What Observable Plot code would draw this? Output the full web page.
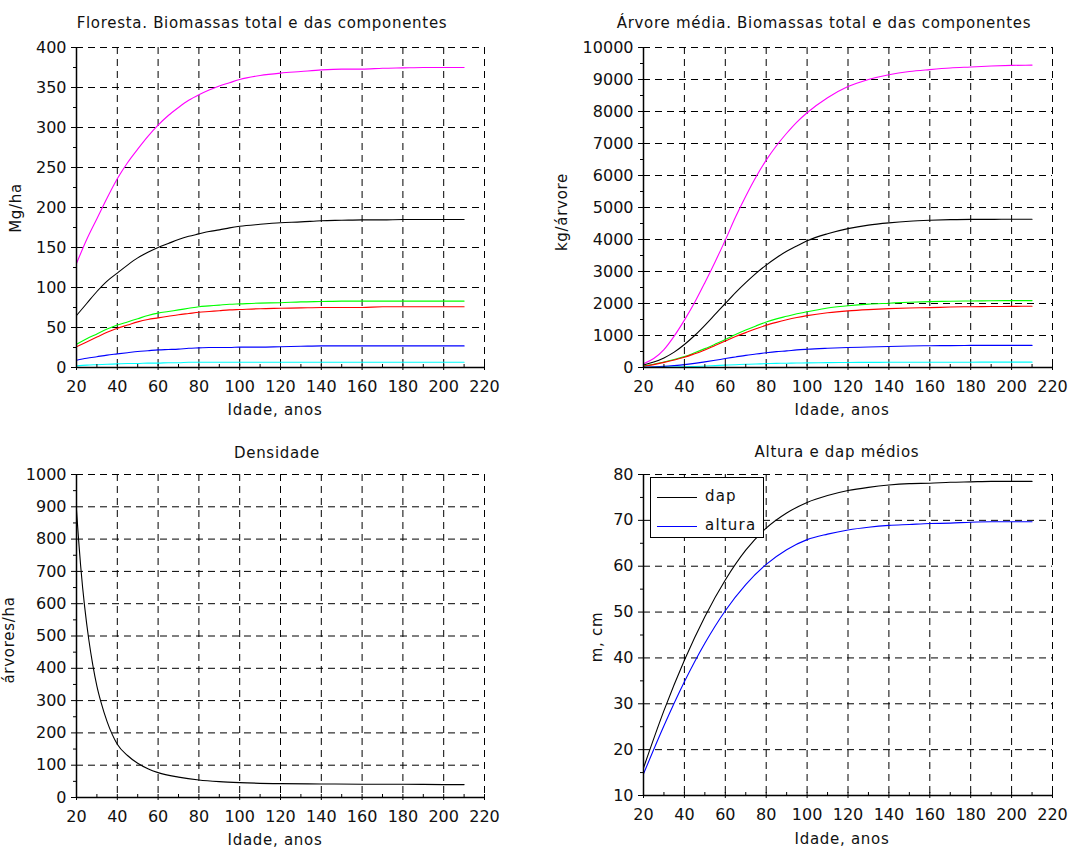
<!DOCTYPE html>
<html>
<head>
<meta charset="utf-8">
<script src="https://cdn.jsdelivr.net/npm/d3@7"></script>
<script src="https://cdn.jsdelivr.net/npm/@observablehq/plot@0.6"></script>
<style>
  html, body { margin: 0; padding: 0; background: white; }
  #page { position: relative; width: 1088px; height: 850px; overflow: hidden; background: white; font-family: "DejaVu Sans", sans-serif; color: #111; }
  .pane { position: absolute; }
  .txt { position: absolute; white-space: nowrap; font-size: 15px; line-height: 1; letter-spacing: 0.7px; transform: translate(-50%, -50%); }
  .rot { transform: translate(-50%, -50%) rotate(-90deg); }
  #legend { position: absolute; border: 1.5px solid #000; background: white; box-sizing: border-box; }
  .lg-row { position: absolute; left: 0; width: 100%; height: 20px; }
  .lg-row svg { position: absolute; left: 6px; top: 9px; }
  .lg-row span { position: absolute; left: 54px; top: 2px; font-size: 15px; letter-spacing: 1.2px; line-height: 1; }
</style>
</head>
<body>
<div id="page"></div>
<script>
// ---------------- DATA ----------------
const xTicks = [20, 40, 60, 80, 100, 120, 140, 160, 180, 200, 220];
const xMinor = [30, 50, 70, 90, 110, 130, 150, 170, 190, 210];

const ages = [20, 25, 30, 35, 40, 45, 50, 55, 60, 65, 70, 75, 80, 85, 90, 95, 100, 110, 120, 130, 140, 150, 160, 170, 180, 190, 200, 210];

// Floresta (Mg/ha)
const florTotal = [130, 160, 186, 212, 236, 256, 273, 289, 303, 315, 325, 334, 341, 347, 352, 356, 360, 365, 368, 370, 372, 373, 373, 374, 374.5, 375, 375, 375];
const florStem  = [65, 80, 95, 108, 118, 128, 137, 144, 150, 155, 160, 164, 167, 170, 172, 174.5, 176.5, 179, 181, 182, 183.5, 184, 184.5, 184.5, 185, 185, 185, 185];
const florGreen = [29, 36, 42, 48, 53, 57, 61, 65, 68, 70, 72, 74, 76, 77, 78, 79, 79.5, 80.5, 81, 82, 82.5, 83, 83, 83, 83, 83, 83, 83];
const florRed   = [26, 32, 38, 44, 49, 53, 57, 60, 62, 64, 66, 67.5, 69, 70, 71, 72, 72.5, 73.5, 74, 74.5, 75, 75, 75, 76, 76, 76, 76, 76];
const florBlue  = [9, 11.5, 13.5, 15.5, 17, 18.5, 20, 21, 22, 22.5, 23, 24, 24.5, 25, 25, 25, 25.5, 25.5, 26, 26.5, 27, 27, 27, 27, 27, 27, 27, 27];
const florCyan  = [2, 3, 3.5, 4, 4.5, 5, 5, 5.5, 5.5, 6, 6, 6.5, 6.5, 6.5, 6.5, 6.5, 6.5, 6.5, 6.5, 6.5, 6.5, 6.5, 6.5, 6.5, 6.5, 6.5, 6.5, 6.5];

// Árvore média (kg/árvore)
const arvTotal = [120, 280, 560, 980, 1480, 2030, 2650, 3300, 3980, 4700, 5350, 5950, 6480, 6930, 7320, 7670, 7960, 8430, 8780, 9000, 9150, 9250, 9310, 9360, 9390, 9420, 9440, 9450];
const arvStem  = [80, 170, 300, 480, 720, 1000, 1320, 1660, 2000, 2340, 2650, 2940, 3200, 3430, 3630, 3800, 3960, 4180, 4340, 4450, 4520, 4570, 4600, 4620, 4630, 4630, 4635, 4635];
const arvGreen = [50, 100, 170, 250, 340, 460, 590, 730, 875, 1030, 1170, 1300, 1420, 1520, 1600, 1680, 1740, 1860, 1930, 1980, 2010, 2040, 2060, 2070, 2080, 2085, 2090, 2090];
const arvRed   = [40, 90, 160, 235, 320, 430, 550, 690, 830, 970, 1090, 1210, 1320, 1410, 1490, 1560, 1620, 1710, 1770, 1810, 1840, 1860, 1870, 1890, 1900, 1905, 1910, 1915];
const arvBlue  = [10, 20, 35, 60, 90, 130, 175, 225, 280, 330, 380, 420, 460, 495, 520, 550, 570, 600, 625, 640, 655, 670, 680, 685, 690, 690, 690, 690];
const arvCyan  = [2, 5, 9, 15, 22, 32, 45, 60, 75, 88, 100, 110, 120, 128, 135, 140, 145, 152, 157, 160, 162, 164, 165, 166, 166, 167, 167, 167];

// Densidade
const densAges = [20, 21, 22, 23, 24, 26, 28, 30, 32, 35, 40, 45, 50, 55, 60, 70, 80, 90, 100, 120, 140, 160, 180, 200, 210];
const densVals = [890, 800, 720, 650, 590, 490, 410, 345, 295, 235, 165, 130, 106, 89, 77, 63, 54, 49, 46, 43, 42, 41, 41, 40, 40];

// Altura e dap médios
const hdAges  = [20, 30, 40, 50, 60, 70, 80, 90, 100, 110, 120, 130, 140, 150, 160, 170, 180, 190, 200, 210];
const dapVals = [16, 28.5, 39.5, 49, 57, 63.5, 68.3, 71.6, 73.9, 75.4, 76.5, 77.2, 77.7, 78, 78.1, 78.3, 78.4, 78.5, 78.5, 78.5];
const altVals = [14.7, 25.2, 34.8, 43.2, 50.3, 56, 60.4, 63.6, 65.8, 67, 67.9, 68.5, 68.9, 69.1, 69.3, 69.4, 69.6, 69.7, 69.7, 69.7];

const colors = { total: "#ff00ff", stem: "#000000", green: "#00ff00", red: "#ff0000", blue: "#0000ff", cyan: "#00ffff" };

function rows(xs, ys, key) { return xs.map((x, i) => ({ x, y: ys[i], key })); }
function range(a, b, s) { const r = []; for (let v = a; v <= b + 1e-9; v += s) r.push(+v.toFixed(6)); return r; }

// ---------------- PANEL BUILDER ----------------
function panel({ left, top, width, height, margins, yDomain, yTicks, yMinor, series }) {
  const dash = { stroke: "black", strokeOpacity: 1, strokeWidth: 1, strokeDasharray: "7,5" };
  const svg = Plot.plot({
    width, height,
    marginTop: margins[0], marginRight: margins[1], marginBottom: margins[2], marginLeft: margins[3],
    style: { fontFamily: "DejaVu Sans", fontSize: "16px", background: "white", color: "#111", overflow: "visible" },
    x: { domain: [20, 220] },
    y: { domain: yDomain },
    marks: [
      Plot.gridX({ ticks: xTicks.filter(v => v !== 20), ...dash }),
      Plot.gridY({ ticks: yTicks.filter(v => v !== yDomain[0]), ...dash }),
      ...series.map(s => Plot.line(s.data, { x: "x", y: "y", stroke: s.color, strokeWidth: 1.1, curve: "monotone-x" })),
      Plot.ruleX([20], { stroke: "black", strokeWidth: 1.5 }),
      Plot.ruleY([yDomain[0]], { stroke: "black", strokeWidth: 1.5 }),
      Plot.axisX({ ticks: xTicks, tickSize: 6, dy: -3, fill: "none", stroke: "black", tickFormat: d => `${d}` }),
      Plot.axisX({ ticks: xMinor, tickSize: 3, dy: -3, fill: "none", stroke: "black", tickFormat: d => `${d}` }),
      Plot.axisX({ ticks: xTicks, tickSize: 0, tickPadding: 13, label: null, tickFormat: d => `${d}` }),
      Plot.axisY({ ticks: yTicks, tickSize: 5, fill: "none", stroke: "black", tickFormat: d => `${d}` }),
      Plot.axisY({ ticks: yMinor, tickSize: 3, fill: "none", stroke: "black", tickFormat: d => `${d}` }),
      Plot.axisY({ ticks: yTicks, tickSize: 0, tickPadding: 10, label: null, tickFormat: d => `${d}` })
    ]
  });
  const div = document.createElement("div");
  div.className = "pane";
  div.style.left = left + "px";
  div.style.top = top + "px";
  div.appendChild(svg);
  document.getElementById("page").appendChild(div);
}

function text(str, x, y, rotate) {
  const el = document.createElement("div");
  el.className = "txt" + (rotate ? " rot" : "");
  el.textContent = str;
  el.style.left = x + "px";
  el.style.top = y + "px";
  document.getElementById("page").appendChild(el);
}

// Top-left: Floresta
panel({
  left: 0, top: 0, width: 544, height: 425, margins: [47, 60, 58, 76],
  yDomain: [0, 400], yTicks: range(0, 400, 50), yMinor: range(25, 375, 50),
  series: [
    { data: rows(ages, florTotal), color: colors.total },
    { data: rows(ages, florStem), color: colors.stem },
    { data: rows(ages, florGreen), color: colors.green },
    { data: rows(ages, florRed), color: colors.red },
    { data: rows(ages, florBlue), color: colors.blue },
    { data: rows(ages, florCyan), color: colors.cyan }
  ]
});

// Top-right: Árvore média
panel({
  left: 544, top: 0, width: 544, height: 425, margins: [47, 36, 58, 99],
  yDomain: [0, 10000], yTicks: range(0, 10000, 1000), yMinor: range(500, 9500, 1000),
  series: [
    { data: rows(ages, arvTotal), color: colors.total },
    { data: rows(ages, arvStem), color: colors.stem },
    { data: rows(ages, arvGreen), color: colors.green },
    { data: rows(ages, arvRed), color: colors.red },
    { data: rows(ages, arvBlue), color: colors.blue },
    { data: rows(ages, arvCyan), color: colors.cyan }
  ]
});

// Bottom-left: Densidade
panel({
  left: 0, top: 430, width: 544, height: 420, margins: [44, 60, 53, 76],
  yDomain: [0, 1000], yTicks: range(0, 1000, 100), yMinor: range(50, 950, 100),
  series: [{ data: rows(densAges, densVals), color: "#000" }]
});

// Bottom-right: Altura e dap médios
panel({
  left: 544, top: 430, width: 544, height: 420, margins: [44, 36, 55, 99],
  yDomain: [10, 80], yTicks: range(10, 80, 10), yMinor: range(15, 75, 10),
  series: [
    { data: rows(hdAges, dapVals), color: "#000" },
    { data: rows(hdAges, altVals), color: "#0000ff" }
  ]
});

// Titles and labels
text("Floresta. Biomassas total e das componentes", 262, 23);
text("Árvore média. Biomassas total e das componentes", 824, 23);
text("Densidade", 277, 453);
text("Altura e dap médios", 837, 452);
text("Idade, anos", 275, 410);
text("Idade, anos", 842, 410);
text("Idade, anos", 275, 840);
text("Idade, anos", 842, 839);
text("Mg/ha", 16, 208, true);
text("kg/árvore", 562, 212, true);
text("m, cm", 597, 637, true);
text("árvores/ha", 9, 640, true);

// Legend (bottom-right)
const lg = document.createElement("div");
lg.id = "legend";
lg.style.left = "650px"; lg.style.top = "477px"; lg.style.width = "114px"; lg.style.height = "61px";
[["dap", "#000", 9], ["altura", "#0000ff", 38]].forEach(([name, col, y]) => {
  const r = document.createElement("div");
  r.className = "lg-row";
  r.style.top = y + "px";
  r.innerHTML = `<svg width="40" height="3"><line x1="0" y1="1.5" x2="40" y2="1.5" stroke="${col}" stroke-width="1.2"/></svg><span>${name}</span>`;
  lg.appendChild(r);
});
document.getElementById("page").appendChild(lg);
</script>
</body>
</html>
